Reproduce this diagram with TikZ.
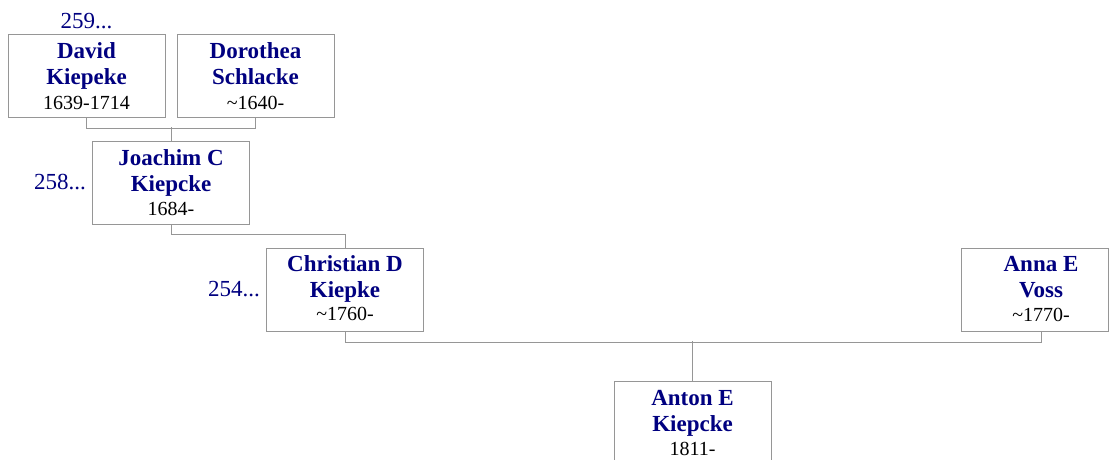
\documentclass[tikz,border=0pt]{standalone}
\usepackage{fontspec}
\setmainfont{Liberation Serif}
\definecolor{navytext}{RGB}{0,0,128}
\definecolor{linegray}{RGB}{150,150,150}
\begin{document}
\begin{tikzpicture}[x=1pt,y=-1pt,
  personbox/.style={draw=linegray,line width=1pt,minimum width=157pt,minimum height=83pt,inner sep=0pt,anchor=north west},
  nameline/.style={anchor=base,font=\fontsize{23}{26}\selectfont\bfseries,text=navytext,inner sep=0pt},
  dateline/.style={anchor=base,font=\fontsize{20}{24}\selectfont,text=black,inner sep=0pt},
  reflabel/.style={font=\fontsize{23}{26}\selectfont,text=navytext,inner sep=0pt},
  conn/.style={draw=linegray,line width=1pt}]
\useasboundingbox (0,0) rectangle (1109,459);
\fill[white] (0,0) rectangle (1109,459);
% boxes
\node[personbox] (david) at (7.5,34) {};
\node[personbox] (dorothea) at (176.5,34) {};
\node[personbox] (joachim) at (92,141) {};
\node[personbox] (christian) at (266,247.5) {};
\node[personbox,minimum width=147pt] (anna) at (961,247.5) {};
\node[personbox] (anton) at (613.5,381) {};
% texts
\node[nameline] (david-a) at ([yshift=-24pt]david.north) {David};
\node[nameline] (david-b) at ([yshift=-50pt]david.north) {Kiepeke};
\node[dateline] (david-c) at ([yshift=-75pt]david.north) {1639-1714};
\node[nameline] (dorothea-a) at ([yshift=-24pt]dorothea.north) {Dorothea};
\node[nameline] (dorothea-b) at ([yshift=-50pt]dorothea.north) {Schlacke};
\node[dateline] (dorothea-c) at ([yshift=-75pt]dorothea.north) {\textasciitilde1640-};
\node[nameline] (joachim-a) at ([yshift=-24pt]joachim.north) {Joachim C};
\node[nameline] (joachim-b) at ([yshift=-50pt]joachim.north) {Kiepcke};
\node[dateline] (joachim-c) at ([yshift=-74pt]joachim.north) {1684-};
\node[nameline] (christian-a) at ([yshift=-24pt]christian.north) {Christian D};
\node[nameline] (christian-b) at ([yshift=-50pt]christian.north) {Kiepke};
\node[dateline] (christian-c) at ([yshift=-73pt]christian.north) {\textasciitilde1760-};
\node[nameline] (anna-a) at ([xshift=6pt,yshift=-24pt]anna.north) {Anna E};
\node[nameline] (anna-b) at ([xshift=6pt,yshift=-50pt]anna.north) {Voss};
\node[dateline] (anna-c) at ([xshift=6pt,yshift=-74pt]anna.north) {\textasciitilde1770-};
\node[nameline] (anton-a) at ([yshift=-24pt]anton.north) {Anton E};
\node[nameline] (anton-b) at ([yshift=-50pt]anton.north) {Kiepcke};
\node[dateline] (anton-c) at ([yshift=-74pt]anton.north) {1811-};
% reference labels
\node[reflabel,anchor=base] (lab259) at ([yshift=6pt]david.north) {259...};
\node[reflabel,anchor=base east] (lab258) at ([xshift=-6pt,yshift=-48.5pt]joachim.north west) {258...};
\node[reflabel,anchor=base east] (lab254) at ([xshift=-6pt,yshift=-48.5pt]christian.north west) {254...};
% connectors
\coordinate (annaC) at ([xshift=6pt]anna.south);
\draw[conn] (david.south) -- ++(0,10) -| (dorothea.south);
\draw[conn] (joachim.north) -- ++(0,-14);
\draw[conn] (joachim.south) -- ++(0,9.5) -| (christian.north);
\draw[conn] (christian.south) -- ++(0,10.5) -| (annaC);
\draw[conn] (anton.north) -- ++(0,-40);
\end{tikzpicture}
\end{document}
